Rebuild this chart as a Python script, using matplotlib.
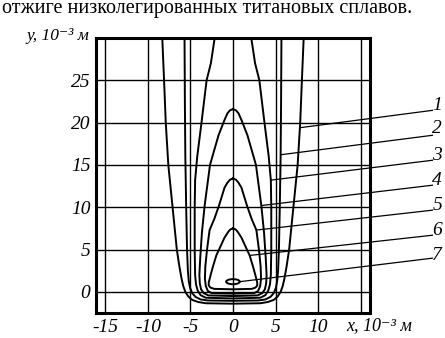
import numpy as np
import matplotlib
matplotlib.use("Agg")
import matplotlib.pyplot as plt
from matplotlib.patches import Ellipse

# half-profiles (right half, x >= 0), top -> bottom centre
curve1_x = [8.35, 8.1, 7.9, 7.6, 7.1, 6.6, 6.3, 6.05, 5.85, 5.6, 5.25, 4.8, 4.1, 3.2, 0.0]
curve1_y = [31.0, 25.0, 20.0, 15.0, 10.0, 5.0, 3.0, 1.6, 0.7, 0.0, -0.55, -0.95, -1.2, -1.35, -1.4]

curve2_x = [5.7, 5.65, 5.6, 5.5, 5.4, 5.3, 5.2, 5.05, 4.8, 4.4, 3.8, 3.0, 0.0]
curve2_y = [31.0, 22.0, 16.0, 10.0, 5.0, 2.5, 1.3, 0.5, -0.15, -0.6, -0.9, -1.02, -1.06]

curve3_x = [1.95, 2.15, 2.6, 3.1, 3.7, 4.2, 4.45, 4.5, 4.5, 4.45, 4.35, 4.15, 3.8, 3.2, 0.0]
curve3_y = [31.0, 30.0, 27.0, 25.0, 20.0, 16.0, 13.2, 10.0, 5.0, 2.0, 0.9, 0.15, -0.4, -0.7, -0.78]

curve4_x = [0.0, 0.35, 0.65, 1.0, 1.7, 2.7, 3.33, 3.65, 3.85, 3.95, 3.9, 3.75, 3.45, 2.9, 0.0]
curve4_y = [21.6, 21.45, 21.1, 20.3, 18.5, 15.0, 10.2, 7.0, 4.0, 2.0, 1.0, 0.3, -0.15, -0.42, -0.5]

curve5_x = [0.0, 0.35, 0.65, 1.0, 1.64, 2.2, 2.75, 3.05, 3.25, 3.3, 3.2, 2.95, 2.5, 0.0]
curve5_y = [13.4, 13.25, 12.9, 12.3, 10.2, 8.6, 7.3, 5.0, 3.0, 1.6, 0.7, 0.1, -0.15, -0.22]

curve6_x = [0.0, 0.3, 0.55, 1.0, 1.5, 1.96, 2.35, 2.65, 2.85, 2.85, 2.65, 2.2, 0.0]
curve6_y = [7.5, 7.38, 7.1, 6.4, 5.3, 4.3, 3.0, 1.9, 1.1, 0.75, 0.5, 0.35, 0.3]

# curve 7: small closed loop
loop_cx, loop_cy = 0.0, 1.2
loop_w, loop_h = 1.6, 0.6

curves = [(curve1_x, curve1_y), (curve2_x, curve2_y), (curve3_x, curve3_y),
          (curve4_x, curve4_y), (curve5_x, curve5_y), (curve6_x, curve6_y)]

labels = ["1", "2", "3", "4", "5", "6", "7"]
label_y = [22.0, 19.3, 16.1, 13.15, 10.2, 7.25, 4.3]
leader_y0 = [21.45, 18.5, 15.55, 12.6, 9.65, 6.69, 3.98]
leader_x1 = [7.9, 5.6, 4.45, 3.33, 2.74, 1.96, 0.8]
leader_y1 = [19.4, 16.2, 13.2, 10.2, 7.3, 4.3, 1.2]

xticks = [-15, -10, -5, 0, 5, 10, 15]
xticklabels = ["-15", "-10", "-5", "0", "5", "10", ""]
yticks = [0, 5, 10, 15, 20, 25]
yticklabels = ["0", "5", "10", "15", "20", "25"]

serif = ["Liberation Serif", "DejaVu Serif"]
plt.rcParams["font.family"] = serif

fig = plt.figure(figsize=(4.45, 3.38), dpi=100)
ax = fig.add_axes([0.2157, 0.074, 0.6157, 0.8136])

for hx, hy in curves:
    hx = np.array(hx)
    hy = np.array(hy)
    xs = np.concatenate([-hx, hx[::-1]])
    ys = np.concatenate([hy, hy[::-1]])
    ax.plot(xs, ys, color="black", lw=1.4, solid_joinstyle="round")

ax.add_patch(Ellipse((loop_cx, loop_cy), loop_w, loop_h, fill=False,
                     edgecolor="black", lw=1.4))

ax.set_xlim(-16.1, 16.1)
ax.set_ylim(-2.5, 30)
ax.set_xticks(xticks)
ax.set_xticklabels(xticklabels, fontstyle="italic", fontsize=14)
ax.set_yticks(yticks)
ax.set_yticklabels(yticklabels, fontstyle="italic", fontsize=14)
ax.tick_params(length=0, pad=4)
ax.grid(True, color="black", lw=1.0)
for s in ax.spines.values():
    s.set_linewidth(2.2)

# leaders and curve numbers
for lab, ly, y0, x1, y1 in zip(labels, label_y, leader_y0, leader_x1, leader_y1):
    ax.plot([23.44, x1], [y0, y1], color="black", lw=0.9, clip_on=False)
    ax.text(24.0, ly, lab, fontsize=14, fontstyle="italic",
            ha="center", va="center", clip_on=False)

ax.text(-16.9, 30.2, "y, 10\u207b\u00b3 м", fontsize=12.5, fontstyle="italic",
        ha="right", va="center", family=serif)
ax.text(13.3, -3.0, "x, 10\u207b\u00b3 м", fontsize=13, fontstyle="italic",
        ha="left", va="top", family=serif)

fig.text(0.004, 0.9624, "отжиге низколегированных титановых сплавов.",
         fontsize=14.5, ha="left", va="baseline")

fig.savefig("out.png", dpi=100)
